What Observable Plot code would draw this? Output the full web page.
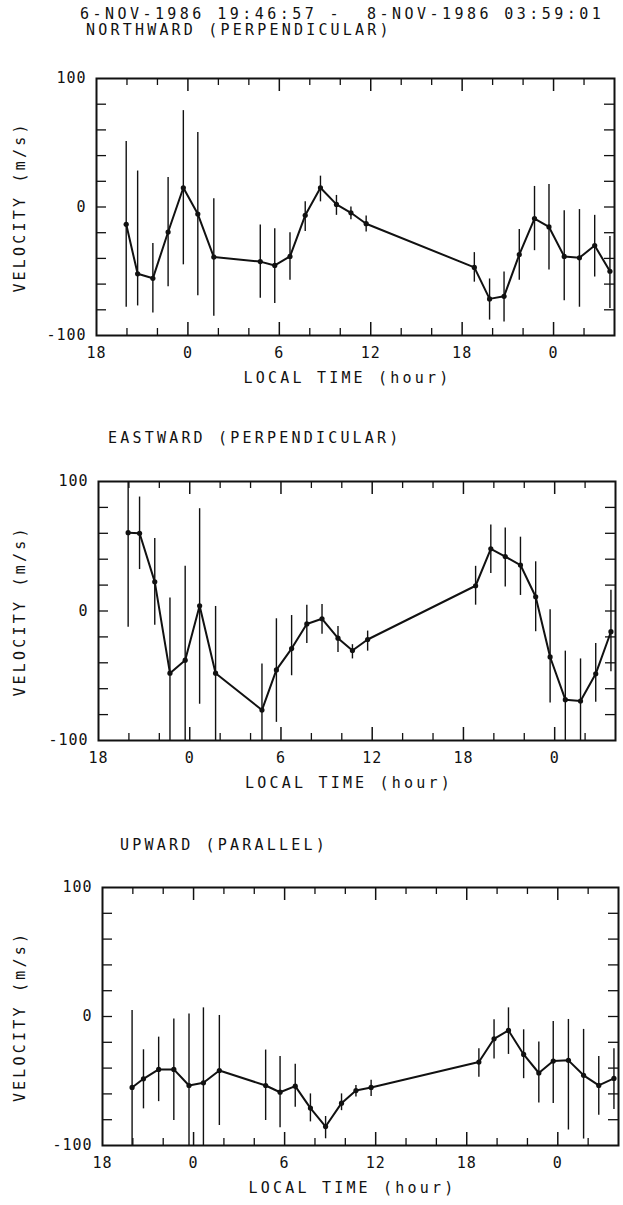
<!DOCTYPE html>
<html><head><meta charset="utf-8">
<script src="https://cdn.jsdelivr.net/npm/d3@7"></script>
<script src="https://cdn.jsdelivr.net/npm/@observablehq/plot@0.6"></script>
<style>
body{margin:0;background:#fff;}
#root{position:relative;width:623px;height:1205px;overflow:hidden;font-family:"DejaVu Sans Mono",monospace;color:#111;background:#fff;}
.t{position:absolute;white-space:pre;font-size:15px;line-height:15px;letter-spacing:3.2px;z-index:5;}
.p{position:absolute;left:0;z-index:1;}
</style></head><body><div id="root">
<div class="t" style="left:80px;top:7px;letter-spacing:3.45px">6-NOV-1986 19:46:57 -  8-NOV-1986 03:59:01</div>
<div class="t" style="left:86px;top:23px">NORTHWARD (PERPENDICULAR)</div>
<div class="t" style="left:108px;top:431px">EASTWARD (PERPENDICULAR)</div>
<div class="t" style="left:120px;top:838px">UPWARD (PARALLEL)</div>
</div>
<script>
// Local time in hours, continuing past midnight (24 = 0h, 48 = 0h next day)
const times = [19.95, 20.7, 21.7, 22.7, 23.7, 24.65, 25.7, 28.75, 29.7, 30.7, 31.7, 32.7, 33.75, 34.7, 35.7, 42.8, 43.8, 44.75, 45.75, 46.75, 47.7, 48.7, 49.7, 50.7, 51.7];

const north   = [-13.5, -52, -55.5, -19.5, 15, -5.5, -39, -42.5, -45.5, -38.5, -6.5, 15, 2, -4.5, -13, -47, -71.5, -69.5, -37, -9, -15.5, -38.5, -39.5, -30, -50];
const northHi = [51, 28, -28.5, 23, 75, 58, 6.5, -14, -17, -20, 4, 24, 9, 0, -7, -35.5, -56, -50.5, -17.5, 16, 17.5, -3, -2, -6.5, -23];
const northLo = [-78, -77, -82.5, -62, -45, -69, -85, -71, -75, -57, -19, 4, -6.5, -10, -19.5, -58.5, -88, -89.5, -57, -34, -49, -73, -78, -54.5, -79];

const east   = [60.5, 60, 22.5, -48, -38, 4, -48, -76.5, -45.5, -29, -10, -6, -21, -30.5, -22, 19.5, 48, 42, 35.5, 11, -35.5, -68.5, -69.5, -48.5, -16];
const eastHi = [100, 88, 56, 10, 34.5, 79, 3.5, -41, -6, -3.5, 4.5, 5, -12, -26, -15.5, 34.5, 66.5, 64, 57, 38, 1, -31, -37, -25, 16];
const eastLo = [-12.5, 32, -11, -100, -100, -72, -100, -100, -86, -50, -25, -18, -32, -37, -31, 4.5, 29, 18.5, 12, -16, -71, -100, -100, -70.5, -47];

const up   = [-55, -48.3, -41, -41, -53.5, -51.4, -41.9, -53.5, -58.7, -54, -71, -85.3, -67.2, -57.4, -55, -35.3, -17.3, -10.8, -29.4, -43.8, -34.5, -34, -45.6, -53.4, -48];
const upHi = [4.6, -25.8, -16, -2, 2, 6.7, 0.8, -26, -31, -37, -60, -77.5, -60, -53.4, -49.5, -25, -2.6, 6.7, -10.3, -19.8, -3.9, -2.3, -10, -31, -25];
const upLo = [-100, -71.6, -66, -80.6, -100, -100, -84.5, -80.6, -86.3, -70.3, -81.7, -94.8, -73, -62.4, -62, -47, -33, -29.4, -48.2, -67, -67.5, -88, -95, -76.5, -72];

const xDomain = [18, 52];
const yDomain = [-100, 100];
const xMajor = [24, 30, 36, 42, 48];
const xMinor = [20, 22, 26, 28, 32, 34, 38, 40, 44, 46, 50];
const xLabels = [18, 24, 30, 36, 42, 48];
const yMinor = [-80, -60, -40, -20, 0, 20, 40, 60, 80];
const yLabels = [-100, 0, 100];

const FONT = '"DejaVu Sans Mono", monospace';

function panel(vals, hi, lo, cfg) {
  const data = times.map((t, i) => ({t, v: vals[i], hi: hi[i], lo: lo[i]}));
  const top = cfg.frameTop - 40;
  const H = cfg.frameBottom - cfg.frameTop + 40 + 66;
  const fw = cfg.right - cfg.left, fh = cfg.frameBottom - cfg.frameTop;
  const svg = Plot.plot({
    width: 623, height: H,
    marginTop: 40, marginBottom: 66, marginLeft: cfg.left, marginRight: 623 - cfg.right,
    style: {fontFamily: FONT, fontSize: "15px", color: "#111", background: "transparent", letterSpacing: "1px"},
    x: {domain: xDomain},
    y: {domain: yDomain},
    marks: [
      Plot.ruleX(xMajor, {x: d => d, insetTop: fh - 13, strokeWidth: 1.5}),
      Plot.ruleX(xMajor, {x: d => d, insetBottom: fh - 13, strokeWidth: 1.5}),
      Plot.ruleX(xMinor, {x: d => d, insetTop: fh - 7, strokeWidth: 1.3}),
      Plot.ruleX(xMinor, {x: d => d, insetBottom: fh - 7, strokeWidth: 1.3}),
      Plot.ruleY(yMinor, {y: d => d, insetRight: fw - 10, strokeWidth: 1.3}),
      Plot.ruleY(yMinor, {y: d => d, insetLeft: fw - 10, strokeWidth: 1.3}),
      Plot.frame({strokeWidth: 2}),
      Plot.axisX({ticks: xLabels, tickFormat: d => String(d % 24), tickSize: 0, tickPadding: 12, label: null, fontSize: 15}),
      Plot.axisY({ticks: yLabels, tickFormat: d => d < 0 ? "-" + Math.abs(d) : String(d), tickSize: 0, tickPadding: 10, label: null, fontSize: 15}),
      Plot.ruleX(data, {x: "t", y1: "lo", y2: "hi", strokeWidth: 1.4, stroke: "#111", clip: true}),
      Plot.line(data, {x: "t", y: "v", strokeWidth: 2, stroke: "#111"}),
      Plot.dot(data, {x: "t", y: "v", r: 2.6, fill: "#111", stroke: "none"}),
      Plot.text(["LOCAL TIME (hour)"], {text: d => d, frameAnchor: "bottom", dy: 47, dx: -8, fontSize: 15}),
      Plot.text(["VELOCITY (m/s)"], {text: d => d, frameAnchor: "left", textAnchor: "middle", dx: 20 - cfg.left, rotate: -90, fontSize: 15})
    ]
  });
  const wrap = document.createElement("div");
  wrap.className = "p";
  wrap.style.top = top + "px";
  wrap.appendChild(svg);
  document.getElementById("root").appendChild(wrap);
  svg.querySelectorAll("text").forEach(el => {
    if (el.textContent === "LOCAL TIME (hour)" || el.textContent === "VELOCITY (m/s)") el.style.letterSpacing = "3.2px";
  });
}

panel(north, northHi, northLo, {frameTop: 78, frameBottom: 335, left: 96, right: 614});
panel(east, eastHi, eastLo, {frameTop: 481, frameBottom: 740, left: 98, right: 615});
panel(up, upHi, upLo, {frameTop: 887, frameBottom: 1145, left: 102, right: 618});
</script>
</body></html>
